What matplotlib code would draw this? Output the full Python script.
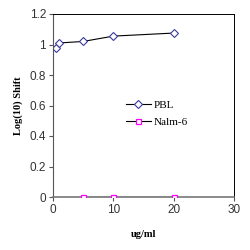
import numpy as np
import matplotlib
matplotlib.use("Agg")
import matplotlib.pyplot as plt

# data
pbl_x = [0.5, 1, 5, 10, 20]
pbl_y = [0.98, 1.01, 1.02, 1.055, 1.075]
nalm_x = [5, 10, 20]
nalm_y = [0, 0, 0]
xticks = [0, 10, 20, 30]
yticks = [0, 0.2, 0.4, 0.6, 0.8, 1, 1.2]
ytick_labels = ["0", "0.2", "0.4", "0.6", "0.8", "1", "1.2"]

fig = plt.figure(figsize=(2.5, 2.5), dpi=100)
ax = fig.add_axes([0.212, 0.212, 0.724, 0.732])

ax.plot(pbl_x, pbl_y, color="black", lw=0.8, marker="D", ms=3.6,
        mfc="white", mec="#3a3aa0", mew=0.8, label="PBL")
ax.plot(nalm_x, nalm_y, color="black", lw=0.8, marker="s", ms=3.6,
        mfc="white", mec="#ff00ff", mew=0.9, label="Nalm-6", zorder=3)

ax.set_xlim(0, 30)
ax.set_ylim(0, 1.2)
ax.set_xticks(xticks)
ax.set_yticks(yticks)
ax.set_yticklabels(ytick_labels)

for lab in ax.get_xticklabels() + ax.get_yticklabels():
    lab.set_family("Liberation Sans")
    lab.set_fontsize(8.5)
    lab.set_color("#333333")

ax.tick_params(direction="out", length=3, width=0.8, color="#555555", pad=2)
ax.spines["left"].set_color("#555555")
ax.spines["bottom"].set_color("#777777")
ax.spines["bottom"].set_linewidth(1.2)
ax.spines["top"].set_linewidth(0.7)
ax.spines["right"].set_linewidth(0.7)

ax.set_xlabel("ug/ml", family="Liberation Serif", fontweight="bold",
              fontsize=7.5, labelpad=10)
ax.set_ylabel("Log(10) Shift", family="Liberation Serif", fontweight="bold",
              fontsize=7.5, labelpad=5)

leg = ax.legend(loc="upper left", bbox_to_anchor=(0.38, 0.555), frameon=False,
                prop={"family": "Liberation Serif", "size": 8},
                handlelength=2.2, handletextpad=0.25, labelspacing=0.7,
                borderaxespad=0)

fig.savefig("out.png", dpi=100)
